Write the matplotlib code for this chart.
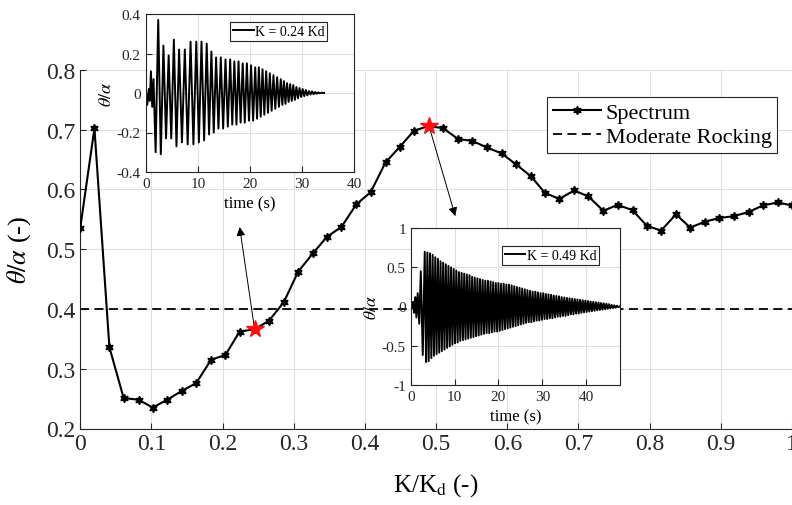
import numpy as np
import matplotlib.pyplot as plt
import matplotlib as mpl

mpl.rcParams["font.family"] = ["Liberation Serif", "DejaVu Serif"]
mpl.rcParams["mathtext.fontset"] = "stix"
mpl.rcParams["axes.unicode_minus"] = False

OUT_PNG = "out.png"
DPI = 100
AX_COLOR = "#262626"
GRID_COLOR = "#e0e0e0"

# spectrum: peak rotation vs stiffness ratio
k_ratio = [0.000, 0.020, 0.041, 0.061, 0.082, 0.102, 0.122, 0.143, 0.163, 0.184,
           0.204, 0.224, 0.245, 0.265, 0.286, 0.306, 0.327, 0.347, 0.367, 0.388,
           0.408, 0.429, 0.449, 0.469, 0.490, 0.510, 0.531, 0.551, 0.571, 0.592,
           0.612, 0.633, 0.653, 0.673, 0.694, 0.714, 0.735, 0.755, 0.776, 0.796,
           0.816, 0.837, 0.857, 0.878, 0.898, 0.918, 0.939, 0.959, 0.980, 1.000]
theta_max = [0.535, 0.702, 0.336, 0.251, 0.248, 0.235, 0.248, 0.263, 0.276, 0.315,
             0.323, 0.362, 0.366, 0.380, 0.411, 0.462, 0.493, 0.521, 0.537, 0.575,
             0.595, 0.645, 0.671, 0.698, 0.706, 0.702, 0.684, 0.681, 0.670, 0.660,
             0.642, 0.622, 0.594, 0.584, 0.598, 0.588, 0.564, 0.574, 0.565, 0.539,
             0.531, 0.558, 0.536, 0.546, 0.552, 0.555, 0.562, 0.573, 0.578, 0.573]

sel_k = [0.245, 0.490]
sel_theta = [0.366, 0.706]

moderate_level = 0.4

x_ticks = [0, 0.1, 0.2, 0.3, 0.4, 0.5, 0.6, 0.7, 0.8, 0.9, 1.0]
x_ticklabels = ["0", "0.1", "0.2", "0.3", "0.4", "0.5", "0.6", "0.7", "0.8", "0.9", "1"]
y_ticks = [0.2, 0.3, 0.4, 0.5, 0.6, 0.7, 0.8]
y_ticklabels = ["0.2", "0.3", "0.4", "0.5", "0.6", "0.7", "0.8"]

# time history, K = 0.24 Kd (zigzag vertices)
t_024 = [0.0, 0.3, 0.6, 0.8, 1.0, 1.25, 1.5, 1.9, 2.4, 2.9,
         3.4, 3.9, 4.4, 4.9, 5.4, 5.9, 6.4, 6.95, 7.5, 8.05,
         8.6, 9.15, 9.7, 10.2, 10.7, 11.2, 11.7, 12.15, 12.6, 13.05,
         13.5, 13.95, 14.4, 14.85, 15.3, 15.75, 16.2, 16.6, 17.0, 17.4,
         17.8, 18.2, 18.6, 19.0, 19.4, 19.8, 20.2, 20.6, 21.0, 21.35,
         21.7, 22.05, 22.4, 22.75, 23.1, 23.45, 23.8, 24.15, 24.5, 24.85,
         25.2, 25.55, 25.9, 26.2, 26.5, 26.8, 27.1, 27.4, 27.7, 28.0,
         28.3, 28.6, 28.9, 29.2, 29.5, 29.8, 30.1, 30.4, 30.7, 31.0,
         31.3, 31.6, 31.9, 32.2, 32.5, 32.8, 33.1, 33.4, 33.7, 34.2]
th_024 = [0.02, -0.06, 0.02, -0.04, 0.11, -0.07, 0.07, -0.30, 0.37, -0.31,
          0.24, -0.23, 0.19, -0.23, 0.27, -0.27, 0.22, -0.25, 0.22, -0.26,
          0.26, -0.26, 0.26, -0.25, 0.26, -0.24, 0.25, -0.21, 0.21, -0.20,
          0.18, -0.18, 0.18, -0.18, 0.17, -0.17, 0.17, -0.16, 0.16, -0.16,
          0.16, -0.15, 0.15, -0.15, 0.15, -0.14, 0.14, -0.14, 0.13, -0.13,
          0.13, -0.12, 0.12, -0.11, 0.11, -0.10, 0.10, -0.09, 0.09, -0.08,
          0.08, -0.07, 0.07, -0.06, 0.06, -0.055, 0.05, -0.045, 0.045, -0.04,
          0.04, -0.035, 0.03, -0.027, 0.025, -0.02, 0.02, -0.016, 0.015, -0.012,
          0.01, -0.008, 0.008, -0.006, 0.005, -0.004, 0.003, -0.002, 0.001, 0.0]

# time history, K = 0.49 Kd: start-up wiggles, then peaks and troughs
t_049_start = [0.0, 0.3, 0.55, 0.8, 1.05, 1.3, 1.6, 1.95]
th_049_start = [0.02, -0.03, 0.06, -0.08, 0.12, -0.14, 0.17, -0.22]
peak_t_049 = [2.3, 3.2, 3.8, 4.4, 5.0, 5.6, 6.2, 6.8, 7.4, 8.0,
              8.6, 9.2, 9.8, 10.4, 11.0, 11.6, 12.2, 12.8, 13.4, 14.0,
              14.6, 15.2, 15.8, 16.4, 17.0, 17.6, 18.2, 18.8, 19.4, 20.0,
              20.6, 21.2, 21.8, 22.4, 23.0, 23.6, 24.2, 24.8, 25.4, 26.0,
              26.6, 27.2, 27.8, 28.4, 29.0, 29.6, 30.2, 30.8, 31.4, 32.0,
              32.6, 33.2, 33.8, 34.4, 35.0, 35.6, 36.2, 36.8, 37.4, 38.0,
              38.6, 39.2, 39.8, 40.4, 41.0, 41.6, 42.2, 42.8, 43.4, 44.0,
              44.6, 45.2, 45.8, 46.4, 47.0]
peak_th_049 = [0.45, 0.70, 0.69, 0.68, 0.66, 0.63, 0.61, 0.58, 0.56, 0.54,
               0.52, 0.50, 0.48, 0.46, 0.44, 0.43, 0.42, 0.41, 0.40, 0.38,
               0.37, 0.36, 0.35, 0.34, 0.33, 0.33, 0.32, 0.31, 0.30, 0.30,
               0.29, 0.29, 0.28, 0.28, 0.27, 0.26, 0.25, 0.24, 0.23, 0.22,
               0.21, 0.20, 0.19, 0.19, 0.18, 0.17, 0.17, 0.16, 0.155, 0.15,
               0.14, 0.135, 0.13, 0.12, 0.115, 0.11, 0.105, 0.10, 0.095, 0.09,
               0.085, 0.08, 0.075, 0.07, 0.065, 0.06, 0.055, 0.05, 0.045, 0.04,
               0.035, 0.03, 0.02, 0.015, 0.01]
trough_t_049 = [2.75, 3.5, 4.1, 4.7, 5.3, 5.9, 6.5, 7.1, 7.7, 8.3,
                8.9, 9.5, 10.1, 10.7, 11.3, 11.9, 12.5, 13.1, 13.7, 14.3,
                14.9, 15.5, 16.1, 16.7, 17.3, 17.9, 18.5, 19.1, 19.7, 20.3,
                20.9, 21.5, 22.1, 22.7, 23.3, 23.9, 24.5, 25.1, 25.7, 26.3,
                26.9, 27.5, 28.1, 28.7, 29.3, 29.9, 30.5, 31.1, 31.7, 32.3,
                32.9, 33.5, 34.1, 34.7, 35.3, 35.9, 36.5, 37.1, 37.7, 38.3,
                38.9, 39.5, 40.1, 40.7, 41.3, 41.9, 42.5, 43.1, 43.7, 44.3,
                44.9, 45.5, 46.1, 46.7, 47.3]
trough_th_049 = [-0.62, -0.71, -0.70, -0.66, -0.63, -0.61, -0.59, -0.57, -0.55, -0.53,
                 -0.51, -0.49, -0.47, -0.46, -0.44, -0.43, -0.42, -0.41, -0.40, -0.39,
                 -0.38, -0.37, -0.36, -0.35, -0.34, -0.34, -0.33, -0.32, -0.32, -0.31,
                 -0.30, -0.29, -0.28, -0.27, -0.26, -0.25, -0.24, -0.23, -0.22, -0.21,
                 -0.20, -0.20, -0.19, -0.18, -0.18, -0.17, -0.16, -0.16, -0.15, -0.15,
                 -0.14, -0.13, -0.13, -0.12, -0.12, -0.11, -0.10, -0.10, -0.09, -0.09,
                 -0.08, -0.075, -0.07, -0.065, -0.06, -0.055, -0.05, -0.045, -0.04, -0.035,
                 -0.03, -0.025, -0.02, -0.015, -0.01]
t_049_end = [47.6]
th_049_end = [0.0]


def style_axes(ax, tick_size, box=True):
    for side, sp in ax.spines.items():
        sp.set_color(AX_COLOR)
        sp.set_linewidth(0.8)
        if not box and side in ("top", "right"):
            sp.set_visible(False)
    ax.tick_params(direction="in", colors=AX_COLOR, labelsize=tick_size,
                   length=4, width=0.8, top=False, right=False)
    ax.grid(True, color=GRID_COLOR, linewidth=0.8)
    ax.set_axisbelow(True)


def merge_history(t_parts, v_parts):
    t = np.concatenate([np.asarray(p, dtype=float) for p in t_parts])
    v = np.concatenate([np.asarray(p, dtype=float) for p in v_parts])
    order = np.argsort(t, kind="stable")
    return t[order], v[order]


def add_inset(fig, rect, t, v, xlim, xticks, yticks, yticklabels, legend_label, legend_anchor, ylabel_size):
    ax = fig.add_axes(rect, zorder=3)
    ax.set_facecolor("white")
    ax.plot(t, v, color="black", linewidth=1.4, label=legend_label)
    ax.set_xlim(*xlim)
    ax.set_ylim(yticks[0], yticks[-1])
    ax.set_xticks(xticks)
    ax.set_xticklabels([str(x) for x in xticks])
    ax.set_yticks(yticks)
    ax.set_yticklabels(yticklabels)
    style_axes(ax, 11, box=True)
    ax.set_xlabel("time (s)", fontsize=12, labelpad=4)
    ax.set_ylabel(r"$\theta/\alpha$", fontsize=ylabel_size, labelpad=1)
    leg = ax.legend(loc="upper left", bbox_to_anchor=legend_anchor, fontsize=10,
                    handlelength=1.5, handletextpad=0.1, borderpad=0.2,
                    borderaxespad=0.0, fancybox=False, framealpha=1)
    leg.get_frame().set_edgecolor(AX_COLOR)
    leg.get_frame().set_linewidth(0.8)
    return ax


def main():
    fig = plt.figure(figsize=(792 / DPI, 506 / DPI), dpi=DPI)
    ax = fig.add_axes([80.2 / 792, 76.5 / 506, (792 - 80.2) / 792, 358.8 / 506])

    ax.plot(k_ratio, theta_max, color="black", linewidth=1.5,
            marker=(6, 1, 0), markersize=6, label="Spectrum", zorder=3)
    ax.axhline(moderate_level, color="black", linestyle=(0, (5, 3)), linewidth=1.3,
               label="Moderate Rocking", zorder=2)
    ax.plot(sel_k, sel_theta, linestyle="none", marker="*", markersize=13,
            color="#ff1010", zorder=4)

    # arrows from the picked points to their time histories
    arrow_tips = [(0.224, 0.537), (0.527, 0.555)]
    for xk, yk, tip in zip(sel_k, sel_theta, arrow_tips):
        ax.annotate("", xy=tip, xytext=(xk, yk),
                    arrowprops=dict(arrowstyle="-|>", color="black", lw=0.7,
                                    mutation_scale=13, shrinkA=0, shrinkB=0),
                    zorder=3)

    ax.set_xlim(0, 1)
    ax.set_ylim(0.2, 0.8)
    ax.set_xticks(x_ticks)
    ax.set_xticklabels(x_ticklabels)
    ax.set_yticks(y_ticks)
    ax.set_yticklabels(y_ticklabels)
    style_axes(ax, 17, box=False)
    ax.set_xlabel(r"K/K$_{\mathrm{d}}$ (-)", fontsize=18, labelpad=12)
    ax.set_ylabel(r"$\theta/\alpha$ (-)", fontsize=19, labelpad=9)

    leg = ax.legend(loc="upper left", bbox_to_anchor=(547 / 792, 1 - 98 / 506),
                    bbox_transform=fig.transFigure, fontsize=16, handlelength=2.2,
                    handletextpad=0.2, borderpad=0.25, labelspacing=0.15,
                    borderaxespad=0.0, fancybox=False, framealpha=1, numpoints=1)
    leg.get_frame().set_edgecolor(AX_COLOR)
    leg.get_frame().set_linewidth(0.8)
    leg.set_zorder(5)

    add_inset(fig, [145.7 / 792, 1 - 173 / 506, 208.6 / 792, 158 / 506],
              t_024, th_024, (0, 40), [0, 10, 20, 30, 40],
              [-0.4, -0.2, 0, 0.2, 0.4], ["-0.4", "-0.2", "0", "0.2", "0.4"],
              "K = 0.24 Kd", (0.404, 0.949), 13)

    t49, th49 = merge_history([t_049_start, peak_t_049, trough_t_049, t_049_end],
                              [th_049_start, peak_th_049, trough_th_049, th_049_end])
    add_inset(fig, [410.7 / 792, 1 - 385.7 / 506, 209.3 / 792, 156.4 / 506],
              t49, th49, (0, 47.7), [0, 10, 20, 30, 40],
              [-1, -0.5, 0, 0.5, 1], ["-1", "-0.5", "0", "0.5", "1"],
              "K = 0.49 Kd", (0.435, 0.885), 12.5)

    fig.savefig(OUT_PNG, dpi=DPI)
    plt.close(fig)


if __name__ == "__main__":
    main()
